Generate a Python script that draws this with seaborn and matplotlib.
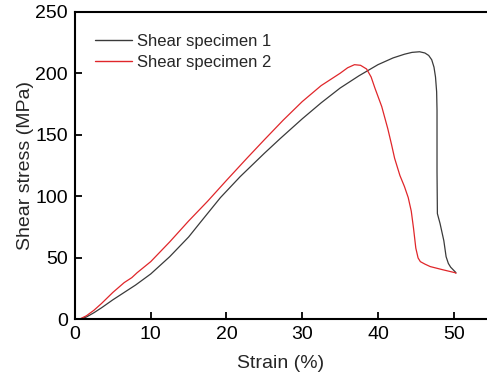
import matplotlib
matplotlib.use("Agg")
import matplotlib.pyplot as plt
import seaborn as sns
import pandas as pd

# Data
strain_1 = [0, 0.5, 1.5, 2.5, 3.5, 5, 6.5, 8, 10, 12.5, 15, 16.5, 19.2, 21.8, 25, 27.1, 30,
            32.5, 35, 37.5, 40, 42, 43.5, 44.5, 45.5, 46.2, 46.7, 47.1, 47.4, 47.6, 47.75,
            47.8, 47.8, 47.85, 48.2, 48.7, 49.0, 49.3, 49.6, 50.2, 50.3]
stress_1 = [0, 0, 2, 5.5, 9.5, 16, 22, 28, 37, 51, 67, 78.5, 99, 116, 135, 147, 163,
            176, 188, 198, 207, 212.5, 215.5, 217, 217.5, 216.5, 214.5, 211, 205, 197, 185,
            170, 120, 86, 78, 64, 51, 45.5, 42.5, 38.7, 38]

strain_2 = [0, 0.5, 1.5, 2.5, 3.5, 5, 6.5, 7.5, 8.2, 10, 12.5, 15, 17.5, 20, 22.7, 25, 27.5,
            30, 32.5, 35, 36.0, 36.9, 37.7, 38.5, 39.1, 39.6, 40.5, 41.3, 41.8, 42.2, 42.9,
            43.5, 44.0, 44.4, 44.7, 45.0, 45.3, 45.6, 46.2, 46.9, 48.5, 50.2, 50.3]
stress_2 = [0, 0, 3, 7.5, 13, 22, 30, 34, 38, 47, 63, 80, 96, 113, 131, 146, 162,
            177, 190, 200, 204.5, 207, 206.5, 203.5, 197, 188, 173, 155, 142, 131, 117,
            108, 99, 88, 74, 58, 50, 47, 45, 43, 40.5, 38, 37.5]

labels = ["Shear specimen 1", "Shear specimen 2"]
x_ticks = [0, 10, 20, 30, 40, 50]
y_ticks = [0, 50, 100, 150, 200, 250]

df = pd.concat([
    pd.DataFrame({"strain": strain_1, "stress": stress_1, "specimen": labels[0]}),
    pd.DataFrame({"strain": strain_2, "stress": stress_2, "specimen": labels[1]}),
], ignore_index=True)

sns.set_style("ticks")
plt.rcParams["font.family"] = ["Liberation Sans", "DejaVu Sans"]

fig = plt.figure(figsize=(4.87, 3.79), dpi=100)
ax = fig.add_axes([0.154, 0.157, 0.846, 0.812])

sns.lineplot(data=df, x="strain", y="stress", hue="specimen", sort=False,
             palette={labels[0]: "#3a3a3a", labels[1]: "#e0262a"},
             linewidth=0.9, ax=ax, estimator=None)

ax.set_xlim(0, 54.4)
ax.set_ylim(0, 250)
ax.set_xticks(x_ticks)
ax.set_yticks(y_ticks)
ax.tick_params(direction="in", length=5, width=1.3, labelsize=14, colors="black", pad=5)
ax.set_xlabel("Strain (%)", fontsize=14, labelpad=8)
ax.set_ylabel("Shear stress (MPa)", fontsize=14, labelpad=1)

for s in ["left", "bottom", "top"]:
    ax.spines[s].set_linewidth(1.5)
    ax.spines[s].set_color("black")
ax.spines["right"].set_visible(False)

leg = ax.legend(loc="upper left", bbox_to_anchor=(0.0485, 0.927), frameon=False, fontsize=12,
                handlelength=2.2, handletextpad=0.3, labelspacing=0.36,
                borderaxespad=0, borderpad=0)
for line in leg.get_lines():
    line.set_linewidth(1.0)

fig.savefig("out.png", dpi=100)
